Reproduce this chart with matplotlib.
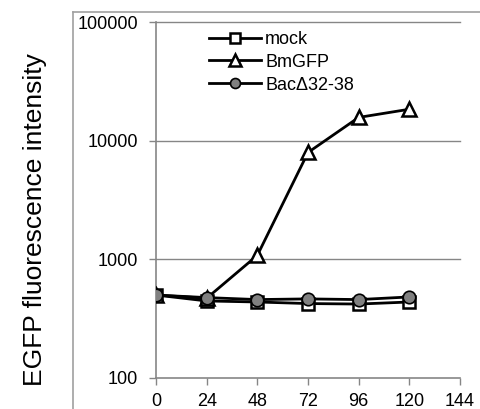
import matplotlib
matplotlib.use("Agg")
import matplotlib.pyplot as plt
from matplotlib.lines import Line2D

plt.rcParams['font.family'] = ['Liberation Sans', 'DejaVu Sans']

hours = [0, 24, 48, 72, 96, 120]
mock = [500, 446, 437, 424, 420, 437]
bmgfp = [500, 470, 1080, 7950, 15700, 18400]
bac = [500, 476, 458, 464, 458, 482]
xticks = [0, 24, 48, 72, 96, 120, 144]
yticks = [100, 1000, 10000, 100000]
ylabel = "EGFP fluorescence intensity"

fig = plt.figure(figsize=(4.81, 4.09), dpi=100)
ax = fig.add_axes([156/481, 1-378/409, (460-156)/481, (378-22)/409])

ax.set_yscale('log')
ax.set_ylim(100, 100000)
ax.set_xlim(0, 144)

gray = '#868686'
for y in yticks[1:]:
    ax.axhline(y, color=gray, lw=1, zorder=0, clip_on=False)

ms = 8.5
ax.plot(hours, mock, color='black', lw=2, marker='s', ms=ms, mfc='white', mec='black', mew=1.8, label='mock', zorder=3)
ax.plot(hours, bmgfp, color='black', lw=2, marker='^', ms=ms+2, mfc='white', mec='black', mew=1.8, label='BmGFP', zorder=4)
ax.plot(hours, bac, color='black', lw=2, marker='o', ms=ms+0.5, mfc='#808080', mec='black', mew=1.2, label='Bac\u039432-38', zorder=5)

ax.set_xticks(xticks)
ax.set_yticks(yticks)
ax.set_yticklabels([str(v) for v in yticks])
ax.minorticks_off()
ax.tick_params(axis='both', labelsize=13, color=gray, length=5, width=1, direction='out')
ax.tick_params(axis='x', pad=5.5)
ax.tick_params(axis='y', pad=8)
for s in ['top', 'right']:
    ax.spines[s].set_visible(False)
for s in ['left', 'bottom']:
    ax.spines[s].set_color(gray)
    ax.spines[s].set_linewidth(1.2)

leg = ax.legend(loc='upper left', bbox_to_anchor=(0.145, 1.0), frameon=False, fontsize=13,
                handlelength=2.9, handletextpad=0.2, labelspacing=0.32, borderaxespad=0.1,
                markerscale=0.8)

fig.text(35/481, 1-220/409, ylabel, rotation=90, ha='center', va='center', fontsize=19)

# outer chart frame (left and top edges)
fig.add_artist(Line2D([73/481, 73/481], [0, 1-12/409], transform=fig.transFigure, color='#a0a0a0', lw=1.2))
fig.add_artist(Line2D([73/481, 1], [1-12/409, 1-12/409], transform=fig.transFigure, color='#a0a0a0', lw=1.2))

fig.savefig('out.png', dpi=100)
